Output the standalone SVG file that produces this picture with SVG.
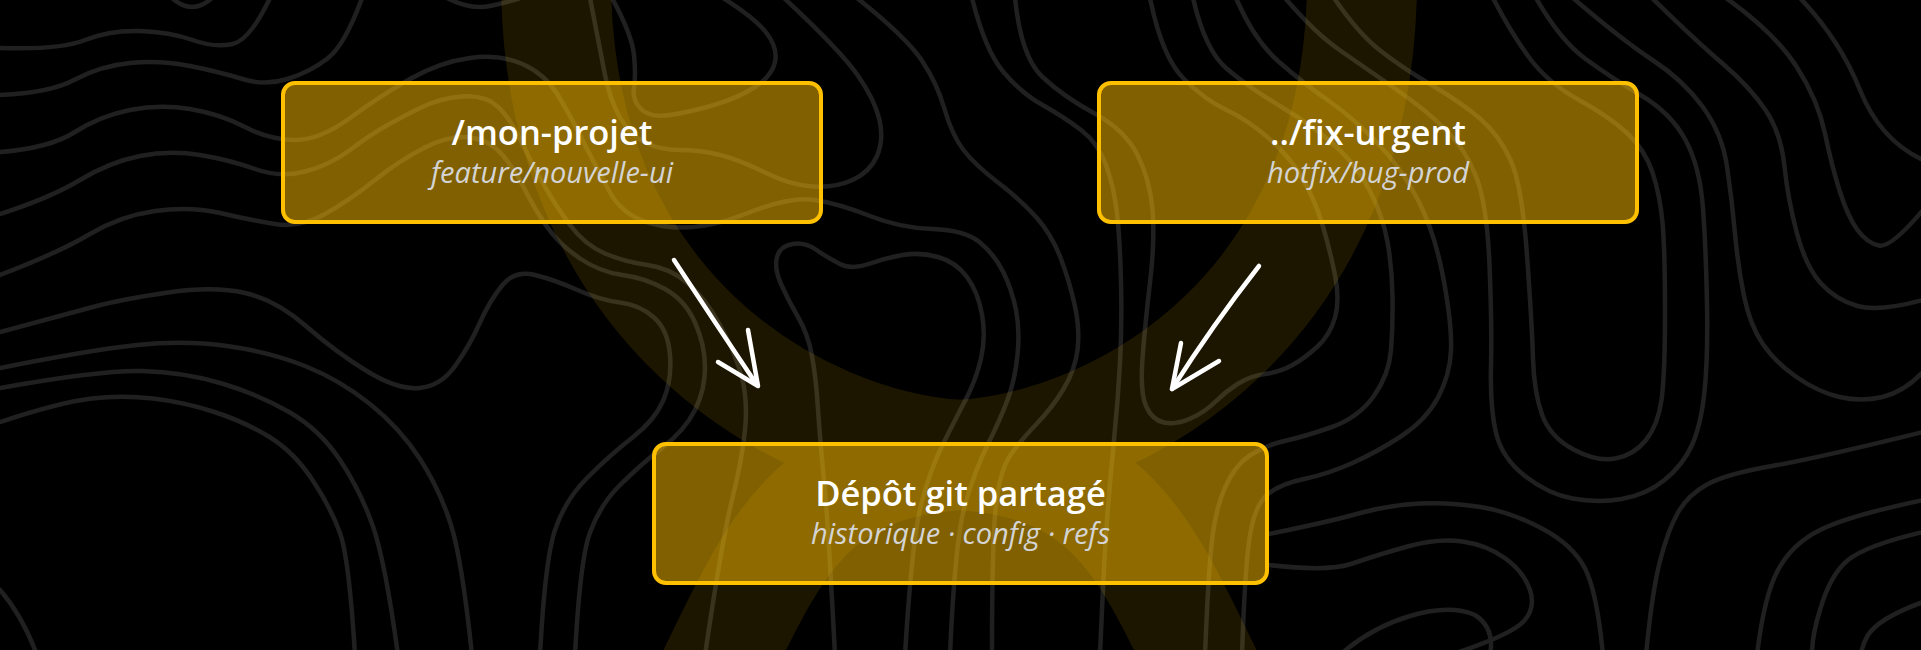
<svg xmlns="http://www.w3.org/2000/svg" width="1921" height="650" viewBox="0 0 1921 650">
<defs>
<style>
.topo{fill:none;stroke:#202020;stroke-width:4.5;stroke-linecap:round;stroke-linejoin:round}
.ribbon{fill:none;stroke:#FFC000;stroke-width:110}
.box{fill:rgba(255,192,0,0.5);stroke:#FFC000;stroke-width:4}
.title{font-family:"Open Sans","Noto Sans","DejaVu Sans",sans-serif;font-weight:600;font-size:34.5px;fill:#ffffff;text-anchor:middle}
.sub{font-family:"Open Sans","Noto Sans","DejaVu Sans",sans-serif;font-style:italic;font-size:29px;fill:#d4d4d4;text-anchor:middle}
.arrow{fill:none;stroke:#ffffff;stroke-width:4.5;stroke-linecap:round;stroke-linejoin:round}
</style>
</defs>
<rect width="1921" height="650" fill="#000000"/>
<g id="background">
<g id="contours">
<path class="topo" d="M0,48 Q60,50 85,40 Q110,30 140,31 Q170,32 192.5,40 Q215,48 232.5,44 Q250,40 270,-2"/>
<path class="topo" d="M172,-2 Q192,16 212,-2"/>
<path class="topo" d="M0,95 Q50,93 75,79.5 Q100,66 130,63 Q160,60 190,66 Q220,72 242.5,79 Q265,86 287.5,79 Q310,72 327.5,58.5 Q345,45 362,-2"/>
<path class="topo" d="M0,152 Q50,148 75,132 Q100,116 130,110 Q160,104 190,109 Q220,114 245,127 Q270,140 295,140 Q320,140 350,118 Q380,96 410,79 Q440,62 470,58 Q500,54 522.5,64 Q545,74 557.5,94.5 Q570,115 582.5,140 Q595,165 610,192.5 Q625,220 662.5,226 Q700,232 745,214 Q790,196 815,200 Q840,204 870,216 Q900,228 932.5,229 Q965,230 980,242.5 Q995,255 1003.5,272.5 Q1012,290 1016,310 Q1020,330 1017.5,355 Q1015,380 1007.5,400 Q1000,420 987.5,445 Q975,470 965,505 Q955,540 950,655"/>
<path class="topo" d="M0,214 Q50,198 80,180 Q110,162 140,156 Q170,150 200,155 Q230,160 255,169 Q280,178 305,171.5 Q330,165 350,150 Q370,135 385,126.5 Q400,118 420,108 Q440,98 462.5,96.5 Q485,95 497.5,106.5 Q510,118 520,139 Q530,160 542.5,182.5 Q555,205 570,225 Q585,245 605,253.5 Q625,262 647.5,265 Q670,268 687.5,283 Q705,298 720,325 Q735,352 741.5,376 Q748,400 745,430 Q742,460 732,500 Q722,540 705,655"/>
<path class="topo" d="M0,275 Q60,252 90,234 Q120,216 155,211 Q190,206 220,213 Q250,220 275,224 Q300,228 325,214 Q350,200 375,180 Q400,160 425,147.5 Q450,135 470,137.5 Q490,140 502.5,155 Q515,170 525,190 Q535,210 547.5,227.5 Q560,245 580,258.5 Q600,272 622.5,275 Q645,278 665,289 Q685,300 695,322.5 Q705,345 705,367.5 Q705,390 695,410 Q685,430 662.5,447.5 Q640,465 620,485 Q600,505 590,532.5 Q580,560 575,655"/>
<path class="topo" d="M0,332 Q60,316 91,307.5 Q122,299 168,292.5 Q214,286 245,293 Q276,300 306.5,326.5 Q337,353 367.5,371.5 Q398,390 419.5,388 Q441,386 455.5,365.5 Q470,345 480,322.5 Q490,300 502.5,285 Q515,270 535,275 Q555,280 577.5,290 Q600,300 620,302.5 Q640,305 654,317.5 Q668,330 670,355 Q672,380 663.5,400 Q655,420 632.5,437.5 Q610,455 587.5,477.5 Q565,500 555,530 Q545,560 540,655"/>
<path class="topo" d="M0,368 Q90,350 137,345 Q184,340 227,346 Q270,352 305,366 Q340,380 370,404 Q400,428 420,459 Q440,490 451,525 Q462,560 472,655"/>
<path class="topo" d="M0,388 Q100,370 142,371 Q184,372 222,383.5 Q260,395 290,412.5 Q320,430 340,460 Q360,490 372.5,525 Q385,560 398,655"/>
<path class="topo" d="M0,422 Q61,402 91.5,398.5 Q122,395 153,398.5 Q184,402 214.5,412 Q245,422 269.5,437 Q294,452 312.5,480 Q331,508 340,533 Q349,558 355,655"/>
<path class="topo" d="M0,590 Q22,615 37,655"/>
<path class="topo" d="M447,-2 Q470,10 490,6 Q505,3 520,-2"/>
<path class="topo" d="M612,-2 Q632,35 634,55 Q636,75 634,87.5 Q632,100 641,109 Q650,118 670,115 Q690,112 714,105 Q738,98 755,87 Q772,76 775,62 Q778,48 766.5,33 Q755,18 723,-2"/>
<path class="topo" d="M784,-2 Q840,50 857.5,75 Q875,100 879.5,120 Q884,140 877,156 Q870,172 852.5,180 Q835,188 812.5,186.5 Q790,185 765,172.5 Q740,160 720,155 Q700,150 680,150 Q660,150 645,142.5 Q630,135 620,117.5 Q610,100 605,75 Q600,50 590,-2"/>
<path class="topo" d="M857,-2 Q906,37 921.5,60 Q937,83 944.5,109 Q952,135 963.5,150 Q975,165 998,182.5 Q1021,200 1036.5,217.5 Q1052,235 1061,259 Q1070,283 1075,306.5 Q1080,330 1077.5,350 Q1075,370 1063.5,389 Q1052,408 1036.5,424 Q1021,440 1010.5,455 Q1000,470 996,505 Q992,540 992,655"/>
<path class="topo" d="M835,655 Q828,520 824,480 Q820,440 818,409 Q816,378 812,356 Q808,334 798,317 Q788,300 781,284 Q774,268 777,257 Q780,246 792.5,244 Q805,242 816.5,250 Q828,258 840,264 Q852,270 868.5,264 Q885,258 902.5,255 Q920,252 938,257 Q956,262 967,277 Q978,292 982,314.5 Q986,337 981,358.5 Q976,380 965.5,400 Q955,420 942.5,445 Q930,470 921,505 Q912,540 905,655"/>
<path class="topo" d="M972,-2 Q985,50 1003,71.5 Q1021,93 1042.5,105 Q1064,117 1081,130 Q1098,143 1106,165 Q1114,187 1117,213.5 Q1120,240 1121,282.5 Q1122,325 1120,362.5 Q1118,400 1114,440 Q1110,480 1107,520 Q1104,560 1100,655"/>
<path class="topo" d="M1015,-2 Q1021,57 1042.5,77 Q1064,97 1094.5,113.5 Q1125,130 1137.5,155 Q1150,180 1152.5,210 Q1155,240 1150,282.5 Q1145,325 1142.5,358.5 Q1140,392 1146,406 Q1152,420 1164,422.5 Q1176,425 1190.5,418.5 Q1205,412 1215,402 Q1225,392 1237.5,384 Q1250,376 1265,374 Q1280,372 1292.5,365 Q1305,358 1317.5,346.5 Q1330,335 1335,317.5 Q1340,300 1335,275 Q1330,250 1322.5,225 Q1315,200 1302.5,178.5 Q1290,157 1269,138.5 Q1248,120 1226.5,110 Q1205,100 1183.5,78.5 Q1162,57 1150,-2"/>
<path class="topo" d="M1193,-2 Q1205,50 1226.5,68.5 Q1248,87 1281.5,107 Q1315,127 1336.5,147 Q1358,167 1370.5,192 Q1383,217 1387.5,242 Q1392,267 1392.5,296 Q1393,325 1391,350 Q1389,375 1373.5,396.5 Q1358,418 1330.5,427.5 Q1303,437 1284.5,441 Q1266,445 1250.5,455 Q1235,465 1225,487.5 Q1215,510 1211.5,545 Q1208,580 1205,655"/>
<path class="topo" d="M1236,-2 Q1254,40 1278.5,61.5 Q1303,83 1327.5,100 Q1352,117 1376.5,142 Q1401,167 1418,200 Q1435,233 1443.5,279 Q1452,325 1451,350 Q1450,375 1438,397.5 Q1426,420 1401.5,436 Q1377,452 1352.5,463 Q1328,474 1304,479 Q1280,484 1267.5,494.5 Q1255,505 1250,535 Q1245,565 1242,655"/>
<path class="topo" d="M1285,-2 Q1315,33 1339.5,50 Q1364,67 1395,88.5 Q1426,110 1446,130 Q1466,150 1476.5,177.5 Q1487,205 1489.5,265 Q1492,325 1491,366.5 Q1490,408 1496,433 Q1502,458 1525,476 Q1548,494 1572.5,498.5 Q1597,503 1621.5,499 Q1646,495 1664.5,480 Q1683,465 1692,445 Q1701,425 1704.5,391.5 Q1708,358 1707,304 Q1706,250 1703,208.5 Q1700,167 1685.5,140 Q1671,113 1640.5,95 Q1610,77 1585,58.5 Q1560,40 1536,-2"/>
<path class="topo" d="M1334,-2 Q1358,33 1379.5,50 Q1401,67 1431.5,85 Q1462,103 1480.5,119 Q1499,135 1510.5,160 Q1522,185 1527,255 Q1532,325 1533,358.5 Q1534,392 1542,414.5 Q1550,437 1573.5,449.5 Q1597,462 1615.5,458.5 Q1634,455 1646,440 Q1658,425 1661.5,400 Q1665,375 1665,312.5 Q1665,250 1662.5,222.5 Q1660,195 1652.5,172.5 Q1645,150 1627.5,133.5 Q1610,117 1579,100 Q1548,83 1529.5,58 Q1511,33 1493,-2"/>
<path class="topo" d="M1573,-2 Q1622,40 1652.5,60 Q1683,80 1702.5,106.5 Q1722,133 1727,166.5 Q1732,200 1735,233.5 Q1738,267 1744,296 Q1750,325 1762.5,343.5 Q1775,362 1796.5,377 Q1818,392 1839.5,397 Q1861,402 1882.5,397 Q1904,392 1923,372"/>
<path class="topo" d="M1652,-2 Q1695,40 1722.5,63.5 Q1750,87 1765.5,110 Q1781,133 1784.5,166.5 Q1788,200 1797,233.5 Q1806,267 1821,283.5 Q1836,300 1857.5,306 Q1879,312 1923,300"/>
<path class="topo" d="M1726,-2 Q1775,33 1796.5,66.5 Q1818,100 1825,133.5 Q1832,167 1840,192 Q1848,217 1857.5,230 Q1867,243 1879,245.5 Q1891,248 1923,210"/>
<path class="topo" d="M1800,-2 Q1840,40 1860,90 Q1880,140 1923,160"/>
<path class="topo" d="M1923,432 Q1818,458 1772,466 Q1726,474 1707,484.5 Q1688,495 1678,512.5 Q1668,530 1660,561 Q1652,592 1646,655"/>
<path class="topo" d="M1923,500 Q1848,516 1820,530 Q1792,544 1778,570 Q1764,596 1757,655"/>
<path class="topo" d="M1923,532 Q1867,545 1848,560 Q1830,575 1820,610 Q1812,635 1812,655"/>
<path class="topo" d="M1923,602 Q1879,618 1868,635 Q1862,645 1861,655"/>
<path class="topo" d="M1269,534 Q1328,522 1358.5,513.5 Q1389,505 1419.5,503.5 Q1450,502 1480.5,507 Q1511,512 1542,528.5 Q1573,545 1585,568.5 Q1597,592 1603,655"/>
<path class="topo" d="M1269,565 Q1328,572 1352.5,563.5 Q1377,555 1407.5,546.5 Q1438,538 1462.5,541.5 Q1487,545 1505.5,558.5 Q1524,572 1530,590 Q1536,608 1523.5,621.5 Q1511,635 1450,655"/>
<path class="topo" d="M1340,655 Q1370,628 1410,616 Q1450,604 1475,615 Q1495,628 1490,655"/>
</g>
<g id="ribbon" opacity="0.11">
<path class="ribbon" d="M556,-30 C552,310 800,445 960,455 S1150,560 1215,690"/>
<path class="ribbon" d="M1362,-30 C1366,310 1120,445 960,455 S770,560 705,690"/>
</g>
</g>
<g id="connectors">
<path class="arrow" d="M674,260 Q714,321 757,385"/>
<path class="arrow" d="M718,362 L758,386 L748,330"/>
<path class="arrow" d="M1259,266 Q1212,326 1172,389"/>
<path class="arrow" d="M1181,343 L1172,389 L1219,361"/>
</g>
<g id="node-mon-projet">
<rect class="box" x="283" y="83" width="538" height="139" rx="12"/>
<text class="title" x="552" y="145">/mon-projet</text>
<text class="sub" x="552" y="183">feature/nouvelle-ui</text>
</g>
<g id="node-fix-urgent">
<rect class="box" x="1099" y="83" width="538" height="139" rx="12"/>
<text class="title" x="1368" y="145">../fix-urgent</text>
<text class="sub" x="1368" y="183">hotfix/bug-prod</text>
</g>
<g id="node-depot">
<rect class="box" x="654" y="444" width="613" height="139" rx="12"/>
<text class="title" x="960.5" y="506">Dépôt git partagé</text>
<text class="sub" x="960.5" y="544">historique · config · refs</text>
</g>
</svg>
